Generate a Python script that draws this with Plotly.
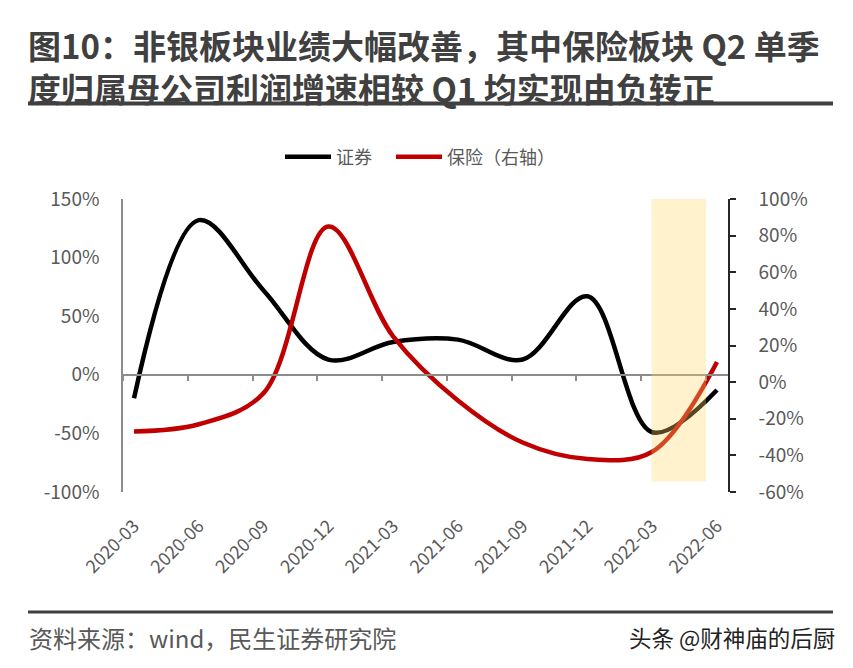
import plotly.graph_objects as go

categories = ["2020-03", "2020-06", "2020-09", "2020-12", "2021-03",
              "2021-06", "2021-09", "2021-12", "2022-03", "2022-06"]
securities = [-20, 132, 72, 13, 28, 30, 13, 67, -49, -13]      # 证券, left axis (%)
insurance = [-27, -23, -6, 85, 25, -10, -33, -42, -38, 11]     # 保险, right axis (%)

left_ticks = [-100, -50, 0, 50, 100, 150]
left_labels = ["-100%", "-50%", "0%", "50%", "100%", "150%"]
right_ticks = [-60, -40, -20, 0, 20, 40, 60, 80, 100]
right_labels = ["-60%", "-40%", "-20%", "0%", "20%", "40%", "60%", "80%", "100%"]

xpos = list(range(len(categories)))
tick_offset = -0.17
zero_ticks = [k + tick_offset for k in range(len(categories))]

FONT = "Noto Sans CJK SC"
GREY = "#595959"

fig = go.Figure()
fig.add_trace(go.Scatter(x=xpos, y=securities, name="证券", mode="lines",
                         line=dict(color="#000000", width=4.5, shape="spline", smoothing=1.0),
                         yaxis="y", legend="legend"))
fig.add_trace(go.Scatter(x=xpos, y=insurance, name="保险（右轴）", mode="lines",
                         line=dict(color="#C00000", width=4.5, shape="spline", smoothing=1.0),
                         yaxis="y2", legend="legend2"))
# empty helper trace so the zero-line category axis is drawn
fig.add_trace(go.Scatter(x=[], y=[], xaxis="x2", yaxis="y", showlegend=False, hoverinfo="skip"))

xr = [tick_offset, len(categories) - 1 - tick_offset]

def px_x(p):
    return (p - 123) / 605

def px_y(p):
    return (492 - p) / 293

legend_style = dict(orientation="h", xanchor="left", yanchor="middle", y=px_y(157),
                    font=dict(size=18, color=GREY, family=FONT), itemwidth=46,
                    bgcolor="rgba(0,0,0,0)")

# page has an 8px body margin: figure is 16px smaller, all pixel positions shift by 8
fig.update_layout(
    width=837, height=652,
    margin=dict(l=115, r=117, t=191, b=168),
    paper_bgcolor="white", plot_bgcolor="white",
    font=dict(family=FONT, color=GREY, size=18),
    showlegend=True,
    legend=dict(x=px_x(280), **legend_style),
    legend2=dict(x=px_x(391), **legend_style),
    xaxis=dict(range=xr, tickvals=xpos, ticktext=categories, tickangle=-45,
               showline=False, showgrid=False, zeroline=False, ticks="",
               ticklabelstandoff=19, tickfont=dict(size=18, color=GREY, family=FONT)),
    xaxis2=dict(range=xr, overlaying="x", anchor="free", position=0.4, side="bottom",
                showline=True, linecolor="#8c8c8c", linewidth=1.5,
                ticks="outside", ticklen=5, tickcolor="#8c8c8c", tickwidth=1.5,
                tickvals=zero_ticks, showticklabels=False, showgrid=False, zeroline=False),
    yaxis=dict(range=[-100, 150], tickvals=left_ticks, ticktext=left_labels,
               showline=True, linecolor="#8c8c8c", linewidth=1.5,
               showgrid=False, zeroline=False, ticks="",
               ticklabelstandoff=18, tickfont=dict(size=19, color=GREY, family=FONT)),
    yaxis2=dict(range=[-60, 100], tickvals=right_ticks, ticktext=right_labels,
                overlaying="y", side="right", anchor="x",
                showline=True, linecolor="#262626", linewidth=1.5,
                ticks="outside", ticklen=6, tickcolor="#262626", tickwidth=1.5,
                showgrid=False, zeroline=False,
                ticklabelstandoff=19, tickfont=dict(size=19, color=GREY, family=FONT)),
)

# highlight band for 2022 Q2
fig.add_shape(type="rect", xref="x", yref="y", x0=7.99, x1=8.83, y0=-91, y1=150,
              fillcolor="rgba(255,217,102,0.33)", line=dict(width=0), layer="above")

# header / footer rules
fig.add_shape(type="line", xref="paper", yref="paper", x0=px_x(28), x1=px_x(833),
              y0=px_y(103.5), y1=px_y(103.5), line=dict(color="#404040", width=4))
fig.add_shape(type="line", xref="paper", yref="paper", x0=px_x(28), x1=px_x(833),
              y0=px_y(612), y1=px_y(612), line=dict(color="#404040", width=3))

fig.add_annotation(xref="paper", yref="paper", x=px_x(26), y=px_y(66.5),
                   xanchor="left", yanchor="middle", align="left", showarrow=False,
                   text="<b>图10：非银板块业绩大幅改善，其中保险板块 Q2 单季</b><br>"
                        "<b>度归属母公司利润增速相较 Q1 均实现由负转正</b>",
                   font=dict(size=33, color="#404040", family=FONT))
fig.add_annotation(xref="paper", yref="paper", x=px_x(27), y=px_y(637),
                   xanchor="left", yanchor="middle", showarrow=False,
                   text="资料来源：wind，民生证券研究院",
                   font=dict(size=24, color=GREY, family=FONT))
fig.add_annotation(xref="paper", yref="paper", x=px_x(837), y=px_y(637),
                   xanchor="right", yanchor="middle", showarrow=False,
                   text="头条 @财神庙的后厨",
                   font=dict(size=22.5, color="#222222", family=FONT))

fig.write_html("out.html")
